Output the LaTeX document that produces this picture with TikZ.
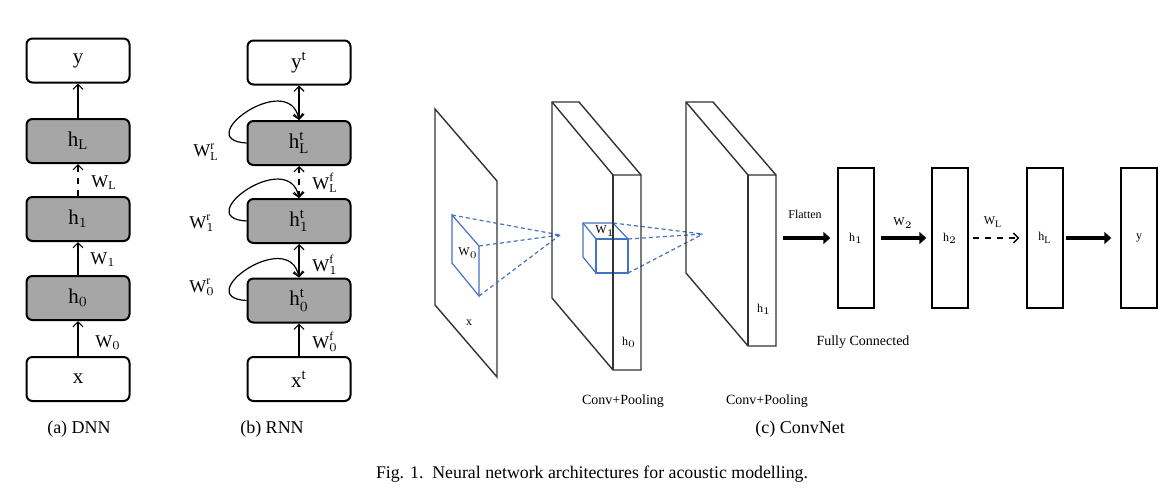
\documentclass[tikz,border=0pt]{standalone}
\usepackage{fontspec}
\setmainfont{Liberation Serif}
\usetikzlibrary{arrows,arrows.meta,shapes}
\definecolor{kernblue}{RGB}{68,114,196}
\definecolor{hidgray}{RGB}{166,166,166}
\tikzstyle{dedge} = [draw,line width=0.6pt,->]
\tikzstyle{bedge} = [draw,line width=0.6pt,<->]
\tikzstyle{fat} = [draw,line width=2pt,-{Triangle[length=3.5pt,width=6pt]}]
\tikzset{
  layer/.style = {draw=black, line width=1pt, rounded corners=3pt, minimum width=51.5pt,
    minimum height=22pt, inner sep=0pt, font=\fontsize{10.5}{12}\selectfont},
  hlayer/.style = {layer, fill=hidgray},
  wlabel/.style = {inner sep=0pt, font=\fontsize{9}{10}\selectfont},
  fcbox/.style = {draw, line width=0.7pt, minimum width=18pt, minimum height=70pt,
    inner sep=0pt, font=\fontsize{6}{7}\selectfont},
  tinytext/.style = {inner sep=0pt, font=\fontsize{6}{7}\selectfont},
  smalltext/.style = {inner sep=0pt, font=\fontsize{7}{8}\selectfont},
  captext/.style = {inner sep=0pt, font=\fontsize{9}{10}\selectfont},
  plane/.style = {draw=black!80, line width=0.7pt},
  kernel/.style = {draw=kernblue, line width=0.6pt},
  kernray/.style = {kernel, dash pattern=on 2pt off 1.5pt},
}

\begin{document}
\begin{tikzpicture}[x=0.5pt,y=-0.5pt,>={Straight Barb[length=2.5pt,width=5pt]}]
\useasboundingbox (0,0) rectangle (1171,498);

% (a) DNN
\node[layer]  (dy)  at (78,60.5) {y};
\node[hlayer] (dhL) at (78,141) {h$_{\mathrm{L}}$};
\node[hlayer] (dh1) at (78,219) {h$_1$};
\node[hlayer] (dh0) at (78,298) {h$_0$};
\node[layer]  (dx)  at (78,379) {x};

\path[dedge] (dx) -- (dh0);
\path[dedge] (dh0) -- (dh1);
\path[dedge,dashed] (dh1) -- (dhL);
\path[dedge] (dhL) -- (dy);

\node[wlabel] (dw0) at (108,343) {W$_0$};
\node[wlabel] (dw1) at (103,260) {W$_1$};
\node[wlabel] (dwL) at (104,183) {W$_{\mathrm{L}}$};

% (b) RNN
\node[layer]  (ry)  at (299,62.5) {y$^{\mathrm{t}}$};
\node[hlayer] (rhL) at (299,143) {h$^{\mathrm{t}}_{\mathrm{L}}$};
\node[hlayer] (rh1) at (299,221) {h$^{\mathrm{t}}_1$};
\node[hlayer] (rh0) at (299,300.5) {h$^{\mathrm{t}}_0$};
\node[layer]  (rx)  at (299,379) {x$^{\mathrm{t}}$};

\path[bedge] (rhL) -- (ry);
\path[bedge,dashed] (rh1) -- (rhL);
\path[bedge] (rh0) -- (rh1);
\path[dedge] (rx) -- (rh0);

\foreach \n in {rhL,rh1,rh0}
  \path[dedge] (\n.west) .. controls +(-57,-3) and +(-10,-51) .. (\n.north);

\node[wlabel] (rwL) at (206,152) {W$^{\mathrm{r}}_{\mathrm{L}}$};
\node[wlabel] (rw1) at (202,223) {W$^{\mathrm{r}}_1$};
\node[wlabel] (rw0) at (202,287) {W$^{\mathrm{r}}_0$};
\node[wlabel] (fwL) at (325,183) {W$^{\mathrm{f}}_{\mathrm{L}}$};
\node[wlabel] (fw1) at (325,265) {W$^{\mathrm{f}}_1$};
\node[wlabel] (fw0) at (325,342) {W$^{\mathrm{f}}_0$};

% (c) ConvNet
\draw[plane] (435,109) -- (497,181) -- (497,377) -- (435,305) -- cycle;
\node[tinytext] (xin) at (469,323) {x};

\coordinate (p0) at (560,235);
\coordinate (k0a) at (452,215);
\coordinate (k0b) at (479,246);
\coordinate (k0c) at (479,296);
\draw[kernel] (k0a) -- (k0b) -- (k0c) -- (452,263) -- cycle;
\foreach \c in {k0a,k0b,k0c}
  \draw[kernray] (\c) -- (p0);
\node[tinytext] (w0) at (468,253) {W$_0$};

\coordinate (p1) at (703,234);
\coordinate (k1a) at (613,223);
\coordinate (k1b) at (628,239);
\coordinate (k1c) at (628,273);
\draw[kernel] (583,257) -- (583,223) -- (k1a) -- (k1b);
\draw[kernel] (583,223) -- (596,239);
\draw[kernel] (583,257) -- (596,273);
\draw[kernel] (596,239) rectangle (k1c);
\foreach \c in {k1a,k1b,k1c}
  \draw[kernray] (\c) -- (p1);
\node[tinytext] (w1) at (605,231) {W$_1$};

\draw[plane] (552,102) -- (579,102) -- (641,175) -- (641,370) -- (613,370) -- (552,298) -- cycle;
\draw[plane] (552,102) -- (613,175) -- (641,175);
\draw[plane] (613,175) -- (613,370);
\node[tinytext] (ch0) at (629,342) {h$_0$};

\draw[plane] (686,102) -- (713,102) -- (776,175) -- (776,346) -- (748,346) -- (686,273) -- cycle;
\draw[plane] (686,102) -- (748,175) -- (776,175);
\draw[plane] (748,175) -- (748,346);
\node[tinytext] (ch1) at (764,309) {h$_1$};

\node[smalltext] (cp0) at (623,401) {Conv+Pooling};
\node[smalltext] (cp1) at (767,401) {Conv+Pooling};

\node[fcbox] (f1) at (856,238) {h$_1$};
\node[fcbox] (f2) at (950,238) {h$_2$};
\node[fcbox] (fL) at (1045,238) {h$_{\mathrm{L}}$};
\node[fcbox] (fy) at (1139,238) {y};

\coordinate (flat) at (783,238);
\path[fat,shorten >=3.5pt] (flat) -- (f1);
\path[fat,shorten <=3pt,shorten >=2.5pt] (f1) -- (f2);
\path[dedge,dashed,line width=0.7pt,shorten <=2pt,shorten >=3.5pt] (f2) -- (fL);
\path[fat,shorten <=1pt,shorten >=4.5pt] (fL) -- (fy);

\node[tinytext] (flt) at (805,214) {Flatten};
\node[tinytext] (fw2) at (903,223) {W$_2$};
\node[tinytext] (fwl) at (993,222) {W$_{\mathrm{L}}$};
\node[smalltext] (fc)  at (863,342) {Fully Connected};

% captions
\node[captext] (capa) at (79,429) {(a)\ DNN};
\node[captext] (capb) at (272,429) {(b)\ RNN};
\node[captext] (capc) at (800,429) {(c)\ ConvNet};
\node[inner sep=0pt,font=\fontsize{8.9}{10}\selectfont] (fig) at (592,474)
  {Fig. 1.\ \ Neural network architectures for acoustic modelling.};
\end{tikzpicture}
\end{document}
